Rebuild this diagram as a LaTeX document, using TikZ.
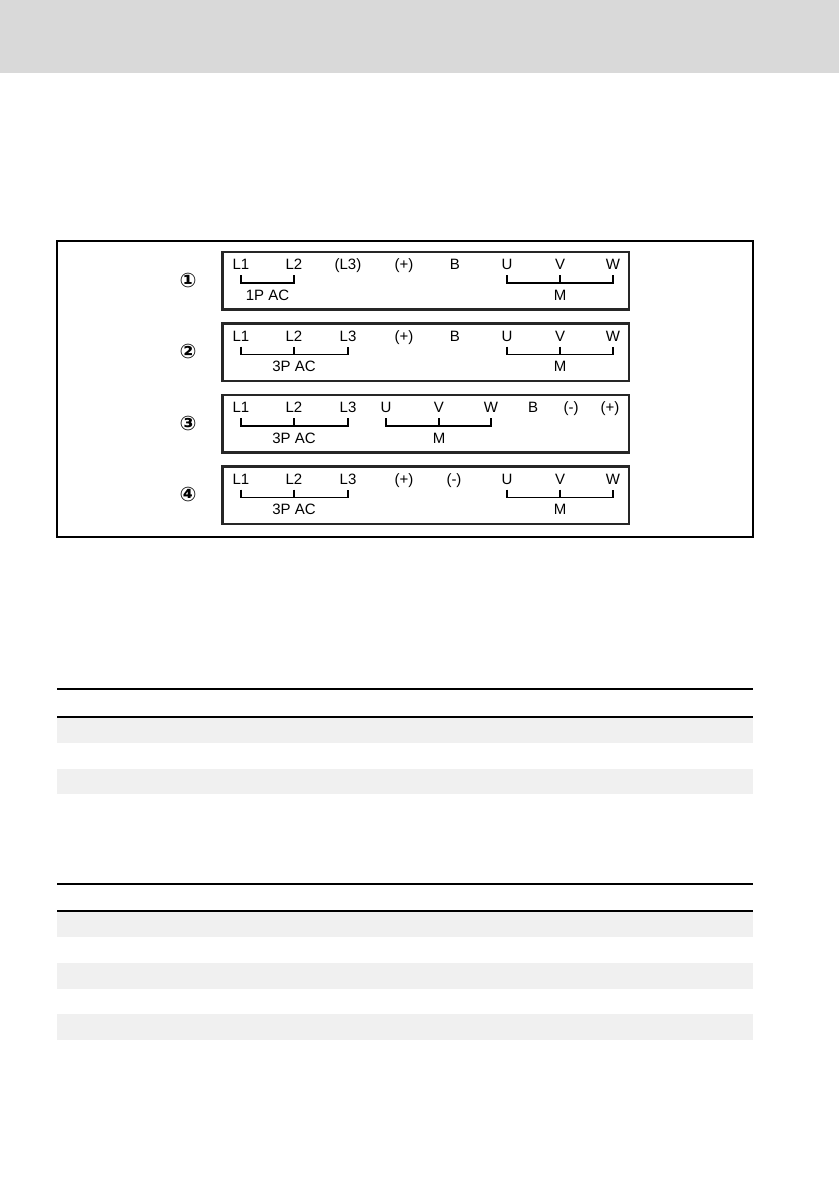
\documentclass[tikz,border=0pt]{standalone}
\usepackage{fontspec}
\setmainfont{Liberation Sans}
\newfontfamily\symfont{DejaVu Sans}

\begin{document}
\begin{tikzpicture}[x=0.5pt,y=-0.5pt,
  term/.style={font=\fontsize{7.5}{8}\selectfont, inner sep=0pt, anchor=base},
  bus/.style={line width=0.6pt},
  panel/.style={draw=black!85, line width=1.4pt},
  num/.style={font=\symfont\bfseries\fontsize{10}{11}\selectfont, inner sep=0pt},
  rule/.style={line width=1pt},
  band/.style={fill=black!6}]
\useasboundingbox (0,0) rectangle (839,1191);
% header
\fill[black!15] (0,0) rectangle (839,73);
% frame
\draw[line width=0.6pt] (57,241) rectangle (753,537);
% panel 1
\draw[panel] (222.5,252) rectangle (629,309.5);
\node[num] (n1) at (188,280) {①};
\foreach \t/\x/\lab in {L1/241/L1,L2/294/L2,L3/348/(L3),P/404/(+),B/455/B,U/507/U,V/560/V,W/613/W}
  \node[term] (p1\t) at (\x,269.5) {\lab};
\draw[bus] (p1L1 |- 0,275) -- (p1L1 |- 0,283) -- (p1L2 |- 0,283) -- (p1L2 |- 0,275);
\draw[bus] (p1U |- 0,275) -- (p1U |- 0,283) -- (p1W |- 0,283) -- (p1W |- 0,275);
\draw[bus] (p1V |- 0,275) -- (p1V |- 0,283);
\node[term] (p1AC) at (267.5,300) {1P AC};
\node[term] (p1M) at (560,300) {M};
% panel 2
\draw[panel] (222.5,323.5) rectangle (629,381);
\node[num] (n2) at (188,351.5) {②};
\foreach \t/\x/\lab in {L1/241/L1,L2/294/L2,L3/348/L3,P/404/(+),B/455/B,U/507/U,V/560/V,W/613/W}
  \node[term] (p2\t) at (\x,341) {\lab};
\draw[bus] (p2L1 |- 0,346.5) -- (p2L1 |- 0,354.5) -- (p2L3 |- 0,354.5) -- (p2L3 |- 0,346.5);
\draw[bus] (p2L2 |- 0,346.5) -- (p2L2 |- 0,354.5);
\draw[bus] (p2U |- 0,346.5) -- (p2U |- 0,354.5) -- (p2W |- 0,354.5) -- (p2W |- 0,346.5);
\draw[bus] (p2V |- 0,346.5) -- (p2V |- 0,354.5);
\node[term] (p2AC) at (294,371.5) {3P AC};
\node[term] (p2M) at (560,371.5) {M};
% panel 3
\draw[panel] (222.5,395) rectangle (629,452.5);
\node[num] (n3) at (188,423) {③};
\foreach \t/\x/\lab in {L1/241/L1,L2/294/L2,L3/348/L3,U/386/U,V/439/V,W/491/W,B/533/B,N/571/(-),P/610/(+)}
  \node[term] (p3\t) at (\x,412.5) {\lab};
\draw[bus] (p3L1 |- 0,418) -- (p3L1 |- 0,426) -- (p3L3 |- 0,426) -- (p3L3 |- 0,418);
\draw[bus] (p3L2 |- 0,418) -- (p3L2 |- 0,426);
\draw[bus] (p3U |- 0,418) -- (p3U |- 0,426) -- (p3W |- 0,426) -- (p3W |- 0,418);
\draw[bus] (p3V |- 0,418) -- (p3V |- 0,426);
\node[term] (p3AC) at (294,443) {3P AC};
\node[term] (p3M) at (439,443) {M};
% panel 4
\draw[panel] (222.5,466.5) rectangle (629,524);
\node[num] (n4) at (188,494.5) {④};
\foreach \t/\x/\lab in {L1/241/L1,L2/294/L2,L3/348/L3,P/404/(+),N/454/(-),U/507/U,V/560/V,W/613/W}
  \node[term] (p4\t) at (\x,484) {\lab};
\draw[bus] (p4L1 |- 0,489.5) -- (p4L1 |- 0,497.5) -- (p4L3 |- 0,497.5) -- (p4L3 |- 0,489.5);
\draw[bus] (p4L2 |- 0,489.5) -- (p4L2 |- 0,497.5);
\draw[bus] (p4U |- 0,489.5) -- (p4U |- 0,497.5) -- (p4W |- 0,497.5) -- (p4W |- 0,489.5);
\draw[bus] (p4V |- 0,489.5) -- (p4V |- 0,497.5);
\node[term] (p4AC) at (294,514.5) {3P AC};
\node[term] (p4M) at (560,514.5) {M};
% table 1
\fill[band] (57,717.5) rectangle (753,742.5);
\fill[band] (57,769) rectangle (753,794);
\draw[rule] (57,689) -- (753,689);
\draw[rule] (57,716.5) -- (753,716.5);
% table 2
\fill[band] (57,911.5) rectangle (753,937);
\fill[band] (57,963) rectangle (753,988.5);
\fill[band] (57,1014) rectangle (753,1040);
\draw[rule] (57,884) -- (753,884);
\draw[rule] (57,910.5) -- (753,910.5);
\end{tikzpicture}
\end{document}
